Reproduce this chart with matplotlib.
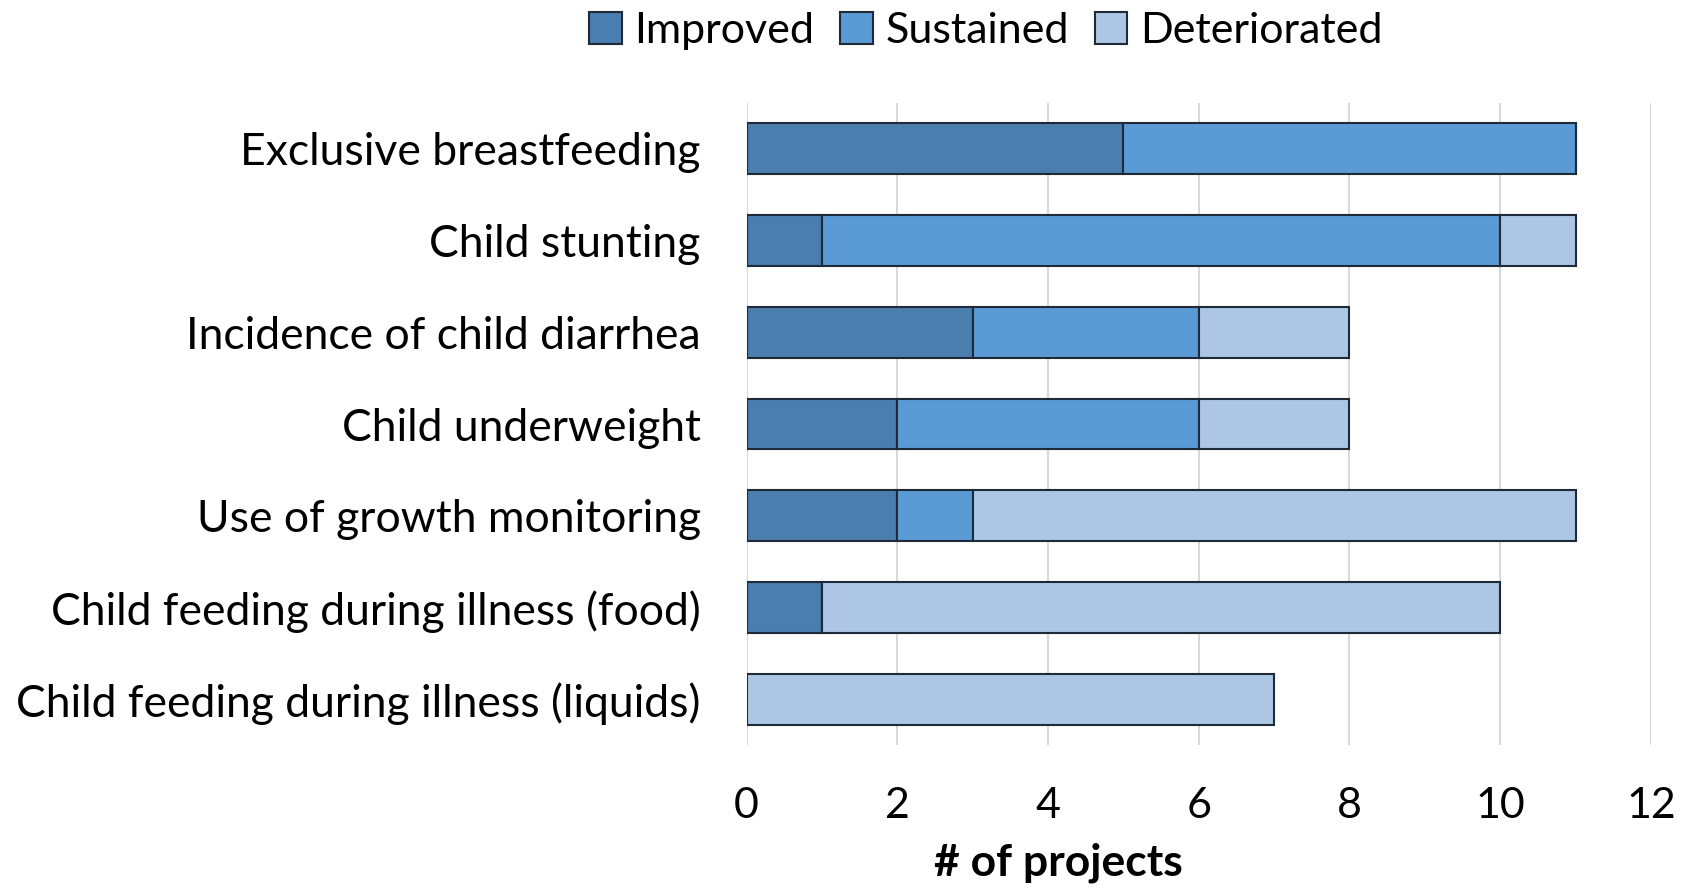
import matplotlib.pyplot as plt
import numpy as np

plt.rcParams['font.family'] = ['Lato', 'DejaVu Sans']

categories = ['Exclusive breastfeeding', 'Child stunting', 'Incidence of child diarrhea',
              'Child underweight', 'Use of growth monitoring',
              'Child feeding during illness (food)', 'Child feeding during illness (liquids)']
improved = [5, 1, 3, 2, 2, 1, 0]
sustained = [6, 9, 3, 4, 1, 0, 0]
deteriorated = [0, 1, 2, 2, 8, 9, 7]
series = ['Improved', 'Sustained', 'Deteriorated']
colors = ['#4a7eaf', '#5a9ad5', '#adc6e5']

fig = plt.figure(figsize=(16.94, 8.88), dpi=100)
ax = fig.add_axes([0.4407, 0.161, 0.5339, 0.723])

y = np.arange(len(categories))
left = np.zeros(len(categories))
for vals, name, c in zip([improved, sustained, deteriorated], series, colors):
    vals = np.array(vals)
    ax.barh(y, vals, left=left, height=0.555, color=c, edgecolor='#1e2a38',
            linewidth=1.5, label=name, zorder=3)
    left = left + vals

ax.set_ylim(len(categories) - 0.5, -0.5)
ax.set_xlim(0, 12)
ax.set_xticks(range(0, 13, 2))
ax.set_yticks(y)
ax.set_yticklabels(categories)
ax.tick_params(axis='y', length=0, pad=33, labelsize=32)
ax.tick_params(axis='x', length=0, pad=30, labelsize=31)
ax.grid(axis='x', color='#d9d9d9', linewidth=1.5, zorder=0)
for s in ax.spines.values():
    s.set_visible(False)
ax.set_xlabel('# of projects', fontsize=32, fontweight='bold', va='center')
ax.xaxis.set_label_coords(0.345, -0.183)

fig.legend(loc='upper center', bbox_to_anchor=(0.582, 1.03), ncol=3, frameon=False,
           fontsize=31, handlelength=0.75, handleheight=0.75, handletextpad=0.3,
           columnspacing=0.6)

fig.savefig('out.png', dpi=100)
